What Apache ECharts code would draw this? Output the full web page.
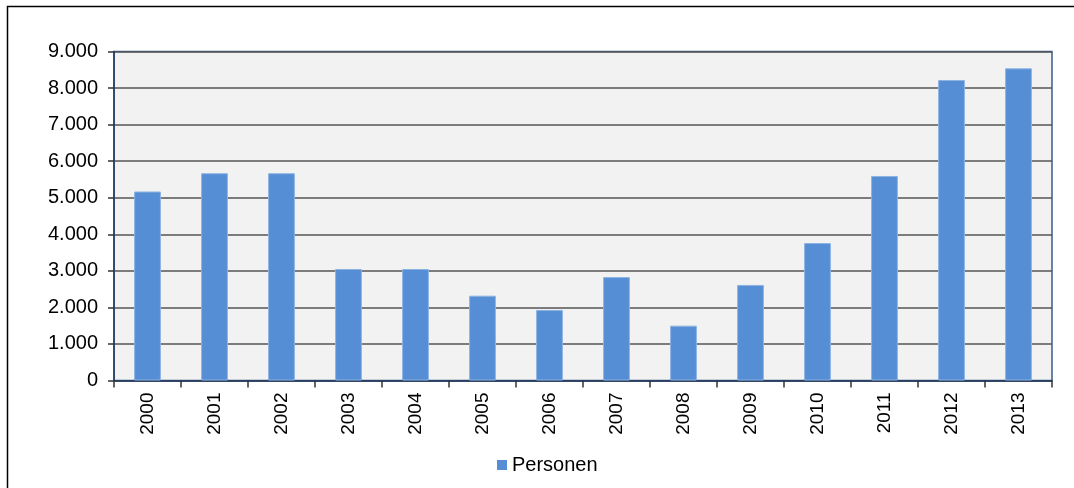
<!DOCTYPE html>
<html>
<head>
<meta charset="utf-8">
<script src="https://cdn.jsdelivr.net/npm/echarts@6/dist/echarts.min.js"></script>
<style>
html,body{margin:0;padding:0;background:#fff;}
#chart{width:1074px;height:488px;}
</style>
</head>
<body>
<div id="chart"></div>
<script>
const categories = ['2000','2001','2002','2003','2004','2005','2006','2007','2008','2009','2010','2011','2012','2013'];
const personen = [5170, 5670, 5670, 3050, 3050, 2320, 1930, 2830, 1500, 2615, 3760, 5595, 8220, 8540];
const seriesName = 'Personen';

const chart = echarts.init(document.getElementById('chart'));
const fontFamily = '"Liberation Sans", Arial, sans-serif';
chart.setOption({
  animation: false,
  backgroundColor: '#ffffff',
  graphic: [{
    type: 'rect',
    shape: { x: 7.5, y: 6.5, width: 1200, height: 600 },
    style: { fill: 'none', stroke: '#000', lineWidth: 1.5 },
    silent: true
  }],
  grid: {
    left: 114, right: 22, top: 51.5, bottom: 107.5,
    show: true, backgroundColor: '#F2F2F2',
    borderColor: '#3B5C88', borderWidth: 1.5
  },
  legend: {
    data: [seriesName],
    top: 450, left: 492,
    icon: 'rect', itemWidth: 10, itemHeight: 10, itemGap: 4,
    itemStyle: { borderWidth: 0, color: '#558ED5' },
    textStyle: { fontFamily, fontSize: 20, color: '#000', padding: [0, 0, 0, 0] }
  },
  xAxis: {
    type: 'category',
    data: categories,
    boundaryGap: true,
    axisLine: { show: true, lineStyle: { color: '#1F3A63', width: 1.5 } },
    axisTick: { show: true, length: 7, lineStyle: { color: '#333', width: 1.5 } },
    axisLabel: { rotate: 90, margin: 12, fontFamily, fontSize: 19, color: '#000' },
    splitLine: { show: false }
  },
  yAxis: {
    type: 'value',
    min: 0, max: 9000, interval: 1000,
    axisLine: { show: true, lineStyle: { color: '#1F3A63', width: 1.5 } },
    axisTick: { show: true, length: 6, lineStyle: { color: '#333', width: 1.5 } },
    axisLabel: {
      margin: 16, fontFamily, fontSize: 20, color: '#000',
      formatter: v => v === 0 ? '0' : String(v).replace(/\B(?=(\d{3})+(?!\d))/g, '.')
    },
    splitLine: { show: true, lineStyle: { color: '#555555', width: 1.5 } }
  },
  series: [{
    name: seriesName,
    type: 'bar',
    data: personen,
    barWidth: '40%',
    itemStyle: { color: '#558ED5', borderColor: '#8DB3E2', borderWidth: 1 }
  }]
});
</script>
</body>
</html>
